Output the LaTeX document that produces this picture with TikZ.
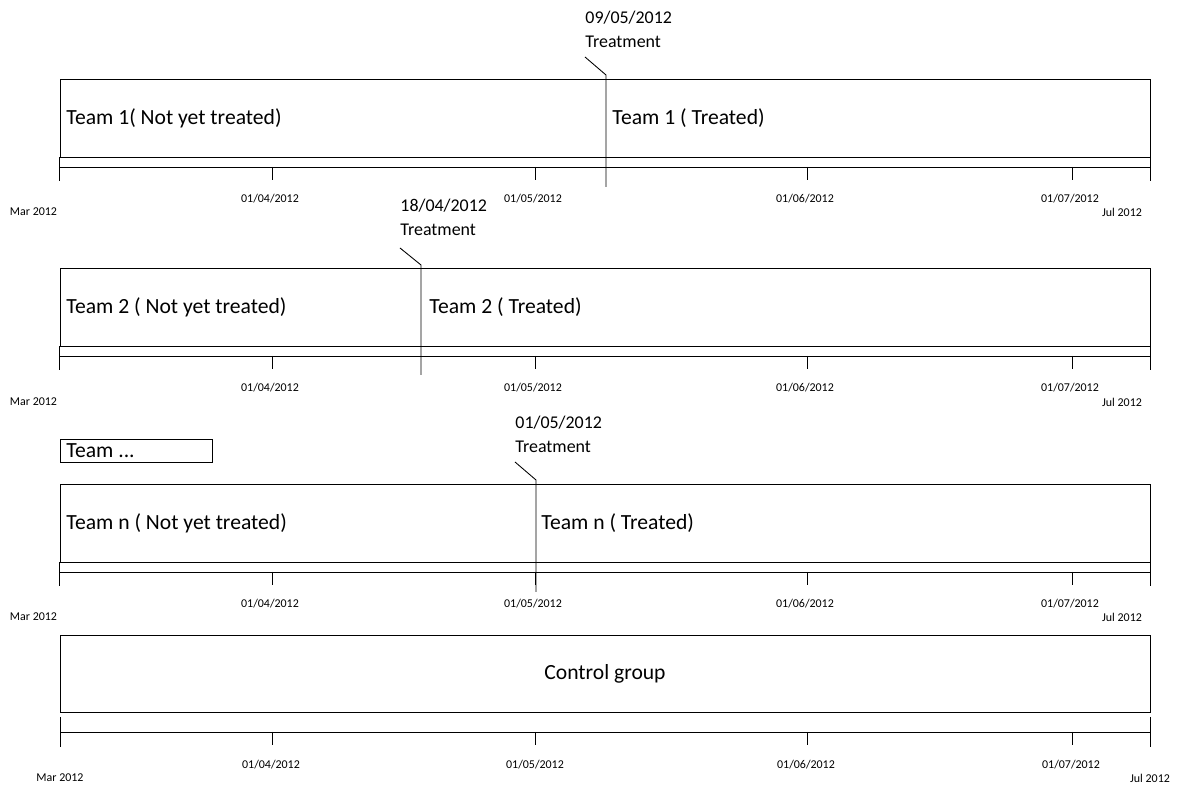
\documentclass[tikz,border=0pt]{standalone}
\usepackage{fontspec}
\setmainfont{Carlito}
\usetikzlibrary{positioning}

\begin{document}
\begin{tikzpicture}[line width=0.5pt,
  teambox/.style={draw, minimum width=21.8cm, minimum height=1.56cm, inner sep=0pt},
  teamtext/.style={anchor=west, inner sep=0pt, font=\fontsize{12.3}{14}\selectfont},
  treattext/.style={anchor=west, inner sep=0pt, align=left, font=\fontsize{10.2}{13.6}\selectfont},
  datetext/.style={inner sep=0pt, font=\fontsize{6.8}{8}\selectfont}]
\useasboundingbox (0,0) rectangle (23.64,15.74);

% team 1
\node[teambox] (team1) at (12.10,13.38) {};
\node[teamtext] (team1pre) at (1.32,13.38) {Team 1( Not yet treated)};
\node[teamtext] (team1post) at (12.24,13.38) {Team 1 ( Treated)};
\draw (team1.south west) -- ++(0,-0.48);
\draw (team1.south east) -- ++(0,-0.48);
\draw ([yshift=-0.2cm]team1.south west) -- ([yshift=-0.2cm]team1.south east);
\draw (5.44,12.40) -- (5.44,12.14);
\draw (10.70,12.40) -- (10.70,12.14);
\draw (16.14,12.40) -- (16.14,12.14);
\draw (21.44,12.40) -- (21.44,12.14);
\node[datetext] (team1mar) at (0.67,11.50) {Mar 2012};
\node[datetext] (team1apr) at (5.40,11.76) {01/04/2012};
\node[datetext] (team1may) at (10.66,11.76) {01/05/2012};
\node[datetext] (team1jun) at (16.10,11.76) {01/06/2012};
\node[datetext] (team1jul) at (21.40,11.76) {01/07/2012};
\node[datetext] (team1end) at (22.44,11.50) {Jul 2012};
\node[treattext] (treat1) at (11.70,15.16) {09/05/2012\\Treatment};
\coordinate (treat1foot) at (11.70,14.60);
\coordinate (treat1top) at (12.12,14.24);
\coordinate (treat1bot) at (12.12,12.00);
\draw (treat1foot) -- (treat1top) -- (treat1bot);

% team 2
\node[teambox] (team2) at (12.10,9.60) {};
\node[teamtext] (team2pre) at (1.32,9.60) {Team 2 ( Not yet treated)};
\node[teamtext] (team2post) at (8.58,9.60) {Team 2 ( Treated)};
\draw (team2.south west) -- ++(0,-0.48);
\draw (team2.south east) -- ++(0,-0.48);
\draw ([yshift=-0.2cm]team2.south west) -- ([yshift=-0.2cm]team2.south east);
\draw (5.44,8.62) -- (5.44,8.36);
\draw (10.70,8.62) -- (10.70,8.36);
\draw (16.14,8.62) -- (16.14,8.36);
\draw (21.44,8.62) -- (21.44,8.36);
\node[datetext] (team2mar) at (0.67,7.70) {Mar 2012};
\node[datetext] (team2apr) at (5.40,7.98) {01/04/2012};
\node[datetext] (team2may) at (10.66,7.98) {01/05/2012};
\node[datetext] (team2jun) at (16.10,7.98) {01/06/2012};
\node[datetext] (team2jul) at (21.40,7.98) {01/07/2012};
\node[datetext] (team2end) at (22.44,7.70) {Jul 2012};
\node[treattext] (treat2) at (8.00,11.39) {18/04/2012\\Treatment};
\coordinate (treat2foot) at (8.00,10.78);
\coordinate (treat2top) at (8.42,10.44);
\coordinate (treat2bot) at (8.42,8.24);
\draw (treat2foot) -- (treat2top) -- (treat2bot);

% team ...
\node[draw, minimum width=3.04cm, minimum height=0.46cm, inner sep=0pt] (teamdots) at (2.72,6.73) {};
\node[teamtext] (teamdotstext) at (1.32,6.72) {Team ...};

% team n
\node[teambox] (teamn) at (12.10,5.28) {};
\node[teamtext] (teamnpre) at (1.32,5.28) {Team n ( Not yet treated)};
\node[teamtext] (teamnpost) at (10.82,5.28) {Team n ( Treated)};
\draw (teamn.south west) -- ++(0,-0.48);
\draw (teamn.south east) -- ++(0,-0.48);
\draw ([yshift=-0.2cm]teamn.south west) -- ([yshift=-0.2cm]teamn.south east);
\draw (5.44,4.30) -- (5.44,4.04);
\draw (10.70,4.30) -- (10.70,4.04);
\draw (16.14,4.30) -- (16.14,4.04);
\draw (21.44,4.30) -- (21.44,4.04);
\node[datetext] (teamnmar) at (0.67,3.40) {Mar 2012};
\node[datetext] (teamnapr) at (5.40,3.66) {01/04/2012};
\node[datetext] (teamnmay) at (10.66,3.66) {01/05/2012};
\node[datetext] (teamnjun) at (16.10,3.66) {01/06/2012};
\node[datetext] (teamnjul) at (21.40,3.66) {01/07/2012};
\node[datetext] (teamnend) at (22.44,3.40) {Jul 2012};
\node[treattext] (treatn) at (10.30,7.06) {01/05/2012\\Treatment};
\coordinate (treatnfoot) at (10.30,6.50);
\coordinate (treatntop) at (10.72,6.14);
\coordinate (treatnbot) at (10.72,3.90);
\draw (treatnfoot) -- (treatntop) -- (treatnbot);

% control group
\node[teambox, minimum height=1.54cm, font=\fontsize{12.3}{14}\selectfont] (control) at (12.10,2.27) {Control group};
\draw (1.20,1.40) -- (1.20,0.80);
\draw (23.00,1.40) -- (23.00,0.80);
\draw (1.20,1.10) -- (23.00,1.10);
\draw (5.44,1.10) -- (5.44,0.84);
\draw (10.70,1.10) -- (10.70,0.84);
\draw (16.14,1.10) -- (16.14,0.84);
\draw (21.44,1.10) -- (21.44,0.84);
\node[datetext] (controlmar) at (1.20,0.18) {Mar 2012};
\node[datetext] (controlapr) at (5.42,0.44) {01/04/2012};
\node[datetext] (controlmay) at (10.70,0.44) {01/05/2012};
\node[datetext] (controljun) at (16.12,0.44) {01/06/2012};
\node[datetext] (controljul) at (21.42,0.44) {01/07/2012};
\node[datetext] (controlend) at (23.00,0.18) {Jul 2012};
\end{tikzpicture}
\end{document}
